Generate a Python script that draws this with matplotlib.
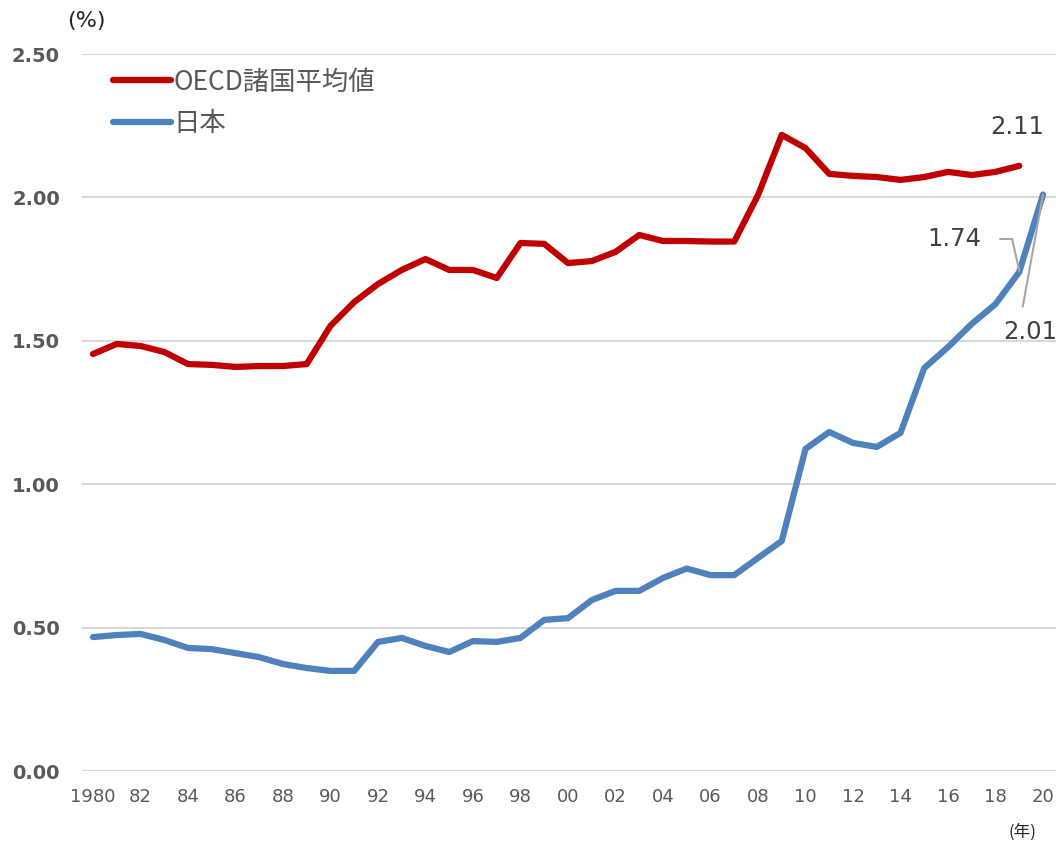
import matplotlib
matplotlib.use("Agg")
import matplotlib.pyplot as plt
from matplotlib import font_manager

years = list(range(1980, 2021))
oecd = [1.454, 1.489, 1.482, 1.461, 1.419, 1.416, 1.409, 1.412, 1.412, 1.419,
        1.552, 1.635, 1.698, 1.747, 1.785, 1.747, 1.747, 1.719, 1.841, 1.838,
        1.771, 1.778, 1.810, 1.869, 1.848, 1.848, 1.846, 1.846, 2.008, 2.218,
        2.172, 2.082, 2.075, 2.071, 2.061, 2.071, 2.089, 2.078, 2.089, 2.11]
japan = [0.467, 0.474, 0.478, 0.457, 0.429, 0.425, 0.411, 0.397, 0.373, 0.359,
         0.349, 0.349, 0.450, 0.464, 0.436, 0.415, 0.453, 0.450, 0.464, 0.527,
         0.533, 0.596, 0.628, 0.628, 0.673, 0.706, 0.683, 0.683, 0.743, 0.802,
         1.123, 1.182, 1.144, 1.130, 1.179, 1.405, 1.478, 1.559, 1.628, 1.74,
         2.01]
series_names = ["OECD諸国平均値", "日本"]
xtick_years = list(range(1980, 2021, 2))
xtick_labels = ["1980"] + [f"{y % 100:02d}" for y in xtick_years[1:]]
yticks = [0.0, 0.5, 1.0, 1.5, 2.0, 2.5]

avail = {f.name for f in font_manager.fontManager.ttflist}
narrow = "Liberation Sans Narrow" if "Liberation Sans Narrow" in avail else "DejaVu Sans"
cjk = ["Noto Sans CJK JP", "DejaVu Sans"]

W, H = 1056, 846
fig = plt.figure(figsize=(W / 100, H / 100), dpi=100)
ax = fig.add_axes([82 / W, 1 - 771 / H, (W - 82) / W, (771 - 54) / H])

red = "#C00000"
blue = "#4F81BD"
ax.plot(years[:len(oecd)], oecd, color=red, lw=4.5, solid_capstyle="round",
        solid_joinstyle="round", label=series_names[0], zorder=3)
ax.plot(years, japan, color=blue, lw=4.5, solid_capstyle="round",
        solid_joinstyle="round", label=series_names[1], zorder=3)

px = 23.75
ax.set_xlim(1980 - 11 / px, 2020 + 13 / px)
ax.set_ylim(0, 2.5)
ax.set_yticks(yticks)
ax.set_yticklabels([f"{v:.2f}" for v in yticks], fontweight="bold",
                   color="#595959", fontsize=14, fontfamily="DejaVu Sans")
ax.set_xticks(xtick_years)
ax.set_xticklabels(xtick_labels, fontsize=13, color="#595959", fontfamily=narrow)
ax.tick_params(axis="both", length=0)
ax.tick_params(axis="y", pad=16)
ax.tick_params(axis="x", pad=12)
ax.yaxis.grid(True, color="#D9D9D9", lw=1.5, zorder=0)
ax.set_axisbelow(True)
for s in ax.spines.values():
    s.set_visible(False)

leg = ax.legend(loc="upper left", bbox_to_anchor=(20 / (W - 82), 1 - 4 / 717),
                frameon=False, handlelength=2.2, handletextpad=0.1,
                labelspacing=0.55, borderaxespad=0,
                prop={"family": cjk, "size": 19})
for t in leg.get_texts():
    t.set_color("#595959")

fig.text(86 / W, 1 - 21 / H, "(%)", fontsize=16, color="#262626",
         ha="center", va="center", fontfamily="DejaVu Sans")
fig.text(1022 / W, 1 - 832 / H, "(年)", fontsize=12, color="#262626",
         ha="center", va="center", fontfamily=cjk)

lab_color = "#404040"
ax.annotate(f"{oecd[-1]:.2f}", xy=(2019, oecd[-1]), xytext=(2018.9, 2.245),
            fontsize=17.5, color=lab_color, ha="center", va="center",
            fontfamily="DejaVu Sans")
ax.annotate(f"{japan[-2]:.2f}", xy=(2019, japan[-2]), xytext=(2016.25, 1.855),
            fontsize=17.5, color=lab_color, ha="center", va="center",
            fontfamily="DejaVu Sans")
ax.annotate(f"{japan[-1]:.2f}", xy=(2020, japan[-1]), xytext=(2019.45, 1.53),
            fontsize=17.5, color=lab_color, ha="center", va="center",
            fontfamily="DejaVu Sans")
gray = "#A6A6A6"
ax.plot([2018.2, 2018.7, 2019.0], [1.855, 1.855, 1.745], color=gray, lw=1.5, zorder=4)
ax.plot([2019.15, 2020.0], [1.62, 2.01], color=gray, lw=1.5, zorder=4)

fig.savefig("out.png", dpi=100)
